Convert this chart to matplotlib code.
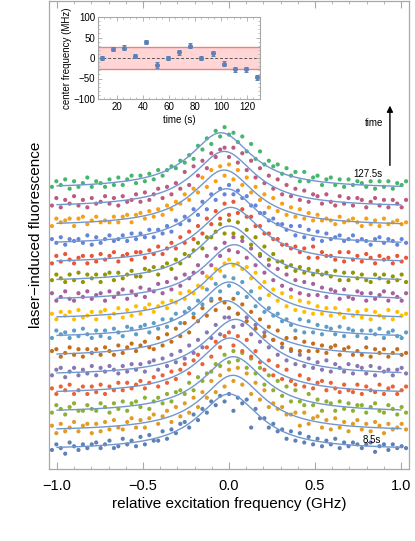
import numpy as np
import matplotlib
matplotlib.use("Agg")
import matplotlib.pyplot as plt
from matplotlib.ticker import MultipleLocator, FuncFormatter

plt.rcParams['font.family'] = ['Liberation Sans', 'DejaVu Sans']

# ---------------- data ----------------
# inset: fitted center frequency vs. time
TIMES = [8.5, 17.0, 25.5, 34.0, 42.5, 51.0, 59.5, 68.0, 76.5, 85.0, 93.5, 102.0, 110.5, 119.0, 127.5]
CENTER_MHZ = [0, 23, 25, 5.5, 38, -17, 0, 13.5, 30, 0, 11, -13.5, -28, -28, -47]
CENTER_ERR = [5, 5, 6, 5, 5, 7, 5, 5, 6, 5, 5, 6, 5, 6, 6]
BAND_MHZ = 26

# Lorentzian fit parameters per trace (bottom = 8.5 s, top = 127.5 s)
FIT_AMP = [3.0, 3.0, 3.0, 3.0, 3.0, 3.0, 3.0, 3.0, 3.0, 3.0, 3.0, 3.0, 3.0, 3.0, 3.0]
FIT_WIDTH = [0.22, 0.22, 0.22, 0.22, 0.22, 0.22, 0.22, 0.22, 0.22, 0.22, 0.22, 0.22, 0.22, 0.22, 0.22]

SCAN_START, SCAN_STOP = -1.03, 1.03
FIT_START, FIT_STOP = -1.0, 1.0

# measured signal (units of 0.1 a.u.), scan from SCAN_START to SCAN_STOP
TRACE_01 = [0,3,1,-2,4,2,0,3,1,3, 4,1,3,5,1,2,6,3,5,2, 7,3,8,5,5,10,6,11,9,14,
            15,12,19,16,22,20,26,24,29,26, 30,21,28,25,27,12,22,17,17,12,
            14,10,11,6,10,5,9,4,7,3, 6,2,5,3,6,1,4,2,4,3, 1,3,4,-1,2,3,0,3,1,2, 1]
TRACE_02 = [3,-1,4,0,2,5,0,3,4,-1, 4,0,5,1,6,2,1,5,7,2, 6,2,7,9,4,8,11,5,13,8,
            15,10,18,13,21,18,27,21,30,24, 33,27,34,25,31,20,26,17,22,13,
            15,12,13,9,9,10,3,10,4,7, 8,2,6,1,7,2,5,0,4,6, 1,4,0,5,3,-1,4,1,2,4, 1]
TRACE_03 = [0,4,2,-1,3,5,1,1,4,2, 1,5,3,0,5,2,6,1,5,6, 3,8,2,6,8,5,10,6,11,12,
            10,16,12,19,17,21,22,26,25,31, 27,33,28,32,24,29,21,24,15,20,
            12,17,9,14,6,12,6,4,10,4, 7,1,6,5,1,6,2,5,1,4, 4,0,3,5,1,0,4,2,-1,3, 0]
TRACE_04 = [3,0,4,2,5,0,2,4,0,4, 1,5,0,4,2,6,2,6,3,5, 7,3,6,9,4,10,6,12,8,13,
            16,11,18,21,16,25,20,28,25,31, 33,26,31,23,29,20,23,17,13,18,
            10,15,8,13,7,5,10,4,8,3, 6,7,2,6,3,1,5,2,1,5, 0,4,2,1,5,0,3,4,0,2, 4]
TRACE_05 = [0,3,4,-1,2,4,0,3,1,5, 0,4,2,5,3,1,5,2,6,3, 6,2,7,8,3,9,5,11,7,13,
            9,16,12,19,15,23,20,27,22,31, 31,26,33,27,31,22,27,18,23,15,
            19,11,15,8,13,6,11,5,9,4, 7,3,8,2,6,4,2,6,1,5, 4,1,5,0,4,2,3,0,3,4, 1]
TRACE_06 = [3,4,0,2,5,1,4,0,4,2, 4,1,5,3,1,6,2,5,7,3, 6,8,5,4,10,6,12,8,15,11,
            18,13,21,19,26,22,30,25,31,29, 26,31,23,28,19,24,15,20,11,16,
            9,14,7,10,4,10,3,8,3,7, 3,6,2,5,6,1,4,5,1,3, 1,5,0,4,2,4,0,2,4,1, 2]
TRACE_07 = [0,4,2,3,0,4,1,5,2,0, 4,1,4,0,5,3,1,6,5,2, 6,7,3,8,5,10,6,10,13,8,
            14,16,13,20,18,26,21,29,25,33, 28,32,24,30,22,25,17,21,14,16,
            12,13,9,10,7,4,10,3,9,3, 7,2,6,5,2,6,1,5,4,1, 4,0,4,2,5,0,3,4,1,0, 3]
TRACE_08 = [3,0,4,2,4,0,5,1,2,4, 0,4,5,1,3,6,1,5,2,7, 3,6,8,4,7,9,6,10,9,14,
            11,15,14,18,17,23,22,27,26,30, 32,29,30,27,28,22,25,17,20,13,
            16,10,14,7,12,5,10,4,9,3, 7,3,6,2,6,3,1,5,2,4, 1,5,0,4,2,1,5,0,4,2, 3]
TRACE_09 = [4,0,2,5,1,0,4,2,5,1, 3,4,0,5,2,4,6,1,5,3, 7,2,6,5,9,4,10,6,12,8,
            14,12,15,19,15,24,19,28,24,31, 27,34,26,32,23,28,19,24,15,19,
            11,17,8,14,6,11,4,10,3,9, 3,7,2,6,5,1,6,2,1,5, 4,0,4,1,3,5,0,4,2,0, 4]
TRACE_10 = [1,4,2,0,4,1,5,0,4,2, 4,0,4,5,1,5,2,4,6,3, 3,7,6,8,4,8,10,7,12,10,
            15,14,17,21,18,24,24,27,31,26, 33,26,32,24,28,20,24,15,19,12,
            15,11,11,8,9,6,8,5,7,4, 6,4,5,3,6,1,5,1,5,2, 4,1,0,4,2,4,0,3,1,4, 0]
TRACE_11 = [0,4,1,5,2,0,3,4,0,4, 1,5,2,4,6,1,4,5,2,6, 6,3,7,5,9,5,8,11,8,14,
            11,17,13,20,16,24,21,28,24,32, 26,33,27,29,25,25,20,20,16,16,
            13,13,10,10,8,9,6,8,3,9, 3,6,4,4,2,6,1,6,2,4, 1,5,3,0,4,2,3,0,4,1, 3]
TRACE_12 = [3,1,4,0,3,2,3,1,5,0, 4,1,3,5,2,3,5,2,6,3, 6,4,8,4,8,6,10,7,13,11,
            15,13,19,16,23,19,27,24,30,27, 32,27,29,25,26,21,21,17,17,13,
            14,11,11,8,10,5,10,4,8,3, 7,2,6,3,4,5,2,3,5,2, 3,2,0,3,4,1,3,2,0,3, 1]
TRACE_13 = [0,4,2,3,4,0,4,5,1,3, 5,2,3,2,5,2,5,6,2,6, 7,4,8,5,9,6,11,9,13,12,
            17,14,20,18,26,21,30,24,32,27, 33,25,30,22,26,18,21,14,17,10,
            15,8,12,6,10,5,9,4,7,3, 6,3,4,3,1,5,2,3,4,2, 0,4,1,3,0,4,1,2,3,1, 2]
TRACE_14 = [1,5,0,4,2,6,1,4,0,5, 2,3,6,2,5,1,6,3,4,7, 3,8,4,7,10,5,11,7,13,10,
            19,12,22,17,25,21,29,27,31,32, 27,32,24,29,20,25,16,21,13,17,
            10,15,7,12,6,10,4,9,3,7, 6,2,7,3,1,6,2,5,1,5, 4,0,3,5,1,4,0,4,2,0, 4]
TRACE_15 = [1,4,2,5,0,4,1,3,6,1, 4,3,1,5,2,6,2,5,7,3, 7,4,8,5,10,7,10,12,11,15,
            14,18,16,23,21,27,24,31,28,33, 29,30,25,28,20,24,16,20,13,15,
            12,13,8,11,7,9,4,9,4,6, 7,2,5,6,2,5,1,5,2,4, 3,1,4,0,4,1,4,0,3,2, 4]

TRACES = [TRACE_01, TRACE_02, TRACE_03, TRACE_04, TRACE_05, TRACE_06, TRACE_07, TRACE_08,
          TRACE_09, TRACE_10, TRACE_11, TRACE_12, TRACE_13, TRACE_14, TRACE_15]

COLORS = ['#5E81B5', '#E19C24', '#8FB032', '#EB6235', '#8778B3', '#C56E1A', '#5D9EC7',
          '#FFBF00', '#A5609D', '#929600', '#E95536', '#6685D9', '#F89F13', '#BC5B80', '#47B66D']

FIRST_LABEL = '8.5s'
LAST_LABEL = '127.5s'

# ---------------- figure ----------------
W, H = 415, 541
fig = plt.figure(figsize=(W / 100, H / 100), dpi=100)
ax = fig.add_axes([49 / W, 1 - 469 / H, 360 / W, 468 / H])

frame_col = '#A8A8A8'
STEP = 1.0  # vertical stacking offset per trace

for i, (tr, col) in enumerate(zip(TRACES, COLORS)):
    y = np.array(tr, dtype=float) / 10.0
    x = np.linspace(SCAN_START, SCAN_STOP, len(y))
    ax.scatter(x, y + i * STEP, s=9, color=col, edgecolors='none', zorder=2)

xf = np.linspace(FIT_START, FIT_STOP, 400)
for i in range(len(TRACES)):
    c = CENTER_MHZ[i] / 1000.0
    yf = FIT_AMP[i] / (1 + ((xf - c) / FIT_WIDTH[i]) ** 2)
    ax.plot(xf, yf + i * STEP, color='#7297CE', lw=1.0, zorder=3)

ax.set_xlim(-1.047, 1.047)
ax.set_ylim(-1.02, 24.06)
ax.xaxis.set_major_locator(MultipleLocator(0.5))
ax.xaxis.set_minor_locator(MultipleLocator(0.1))
ax.xaxis.set_major_formatter(FuncFormatter(lambda v, p: f"{v:.1f}".replace('-', '\u2212')))
ax.tick_params(axis='x', which='major', direction='in', top=True, length=5, width=0.8,
               color=frame_col, labelsize=10.5, pad=7)
ax.tick_params(axis='x', which='minor', direction='in', top=True, length=2.5, width=0.6,
               color=frame_col)
ax.tick_params(axis='y', which='both', left=False, right=False, labelleft=False)
for sp in ax.spines.values():
    sp.set_color(frame_col)
    sp.set_linewidth(0.9)

ax.set_xlabel('relative excitation frequency (GHz)', fontsize=11, labelpad=3)
ax.set_ylabel('laser\u2212induced fluorescence', fontsize=11, labelpad=4)

ax.text(0.83, 0.53, FIRST_LABEL, fontsize=7, ha='center', va='center', zorder=5)
ax.text(0.81, 14 * STEP + 0.8, LAST_LABEL, fontsize=7, ha='center', va='center', zorder=5)
ax.annotate('', xy=(0.936, 18.6), xytext=(0.936, 15.1),
            arrowprops=dict(arrowstyle='-|>', color='black', lw=1.0, mutation_scale=9))
ax.text(0.843, 17.5, 'time', fontsize=7, ha='center', va='center')

# ---------------- inset ----------------
iax = fig.add_axes([98 / W, 1 - 99 / H, 162 / W, 82 / H])
iax.axhspan(-BAND_MHZ, BAND_MHZ, color='#FFD5D5', lw=0, zorder=0)
iax.axhline(BAND_MHZ, color='#F08080', lw=1.0, zorder=1)
iax.axhline(-BAND_MHZ, color='#F08080', lw=1.0, zorder=1)
iax.axhline(0, color='#555555', lw=0.7, ls=(0, (3, 2)), zorder=1)
iax.errorbar(TIMES, CENTER_MHZ, yerr=CENTER_ERR, fmt='o', ms=2.6, color='#5E81B5',
             ecolor='#5E81B5', elinewidth=0.8, capsize=1.2, capthick=0.7, zorder=3)
iax.set_xlim(5.4, 130)
iax.set_ylim(-100, 100)
iax.xaxis.set_major_locator(MultipleLocator(20))
iax.xaxis.set_minor_locator(MultipleLocator(5))
iax.yaxis.set_major_locator(MultipleLocator(50))
iax.yaxis.set_minor_locator(MultipleLocator(10))
iax.yaxis.set_major_formatter(FuncFormatter(lambda v, p: f"{v:.0f}".replace('-', '\u2212')))
iax.tick_params(which='major', direction='in', top=True, right=True, length=3, width=0.6,
                color=frame_col, labelsize=7, pad=2)
iax.tick_params(which='minor', direction='in', top=True, right=True, length=1.5, width=0.5,
                color=frame_col)
for sp in iax.spines.values():
    sp.set_color(frame_col)
    sp.set_linewidth(0.8)
iax.set_xlabel('time (s)', fontsize=7, labelpad=2)
iax.set_ylabel('center frequency (MHz)', fontsize=7, labelpad=1)
iax.patch.set_facecolor('white')

fig.savefig('out.png', dpi=100)
